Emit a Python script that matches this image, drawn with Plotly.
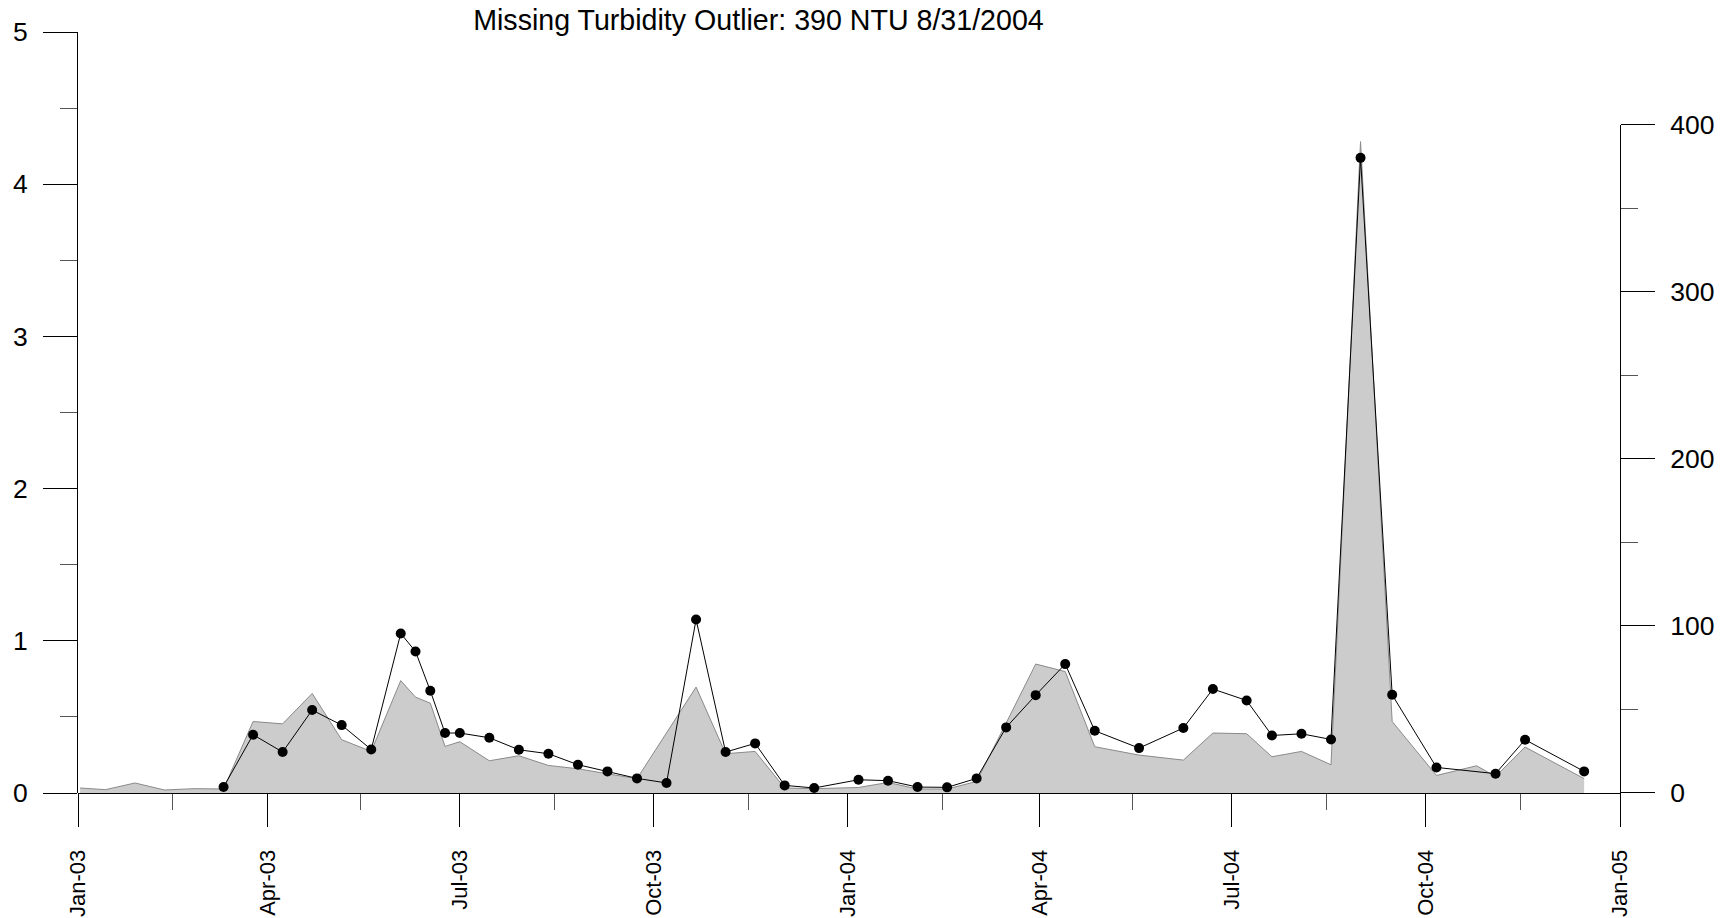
import plotly.graph_objects as go

# ---- data ----
turb_dates = ["2003-01-02", "2003-01-14", "2003-01-28", "2003-02-11", "2003-02-25", "2003-03-11",
              "2003-03-25", "2003-04-08", "2003-04-22", "2003-05-06", "2003-05-20", "2003-06-03",
              "2003-06-10", "2003-06-17", "2003-06-24", "2003-07-01", "2003-07-15", "2003-07-29",
              "2003-08-12", "2003-08-26", "2003-09-09", "2003-09-23", "2003-10-21", "2003-11-04",
              "2003-11-18", "2003-12-02", "2003-12-16", "2004-01-06", "2004-01-20", "2004-02-03",
              "2004-02-17", "2004-03-02", "2004-03-16", "2004-03-30", "2004-04-13", "2004-04-27",
              "2004-05-18", "2004-06-08", "2004-06-22", "2004-07-08", "2004-07-20", "2004-08-03",
              "2004-08-17", "2004-08-31", "2004-09-15", "2004-10-06", "2004-10-25", "2004-11-03",
              "2004-11-17", "2004-12-15"]
turb_ntu = [3.0, 2.0, 6.0, 1.8, 2.6, 2.4,
            42.8, 41.4, 59.6, 31.9, 24.9, 67.3,
            57.4, 53.8, 27.9, 30.7, 19.3, 22.3,
            16.5, 14.5, 11.5, 8.6, 63.4, 23.5,
            24.9, 3.0, 2.6, 3.3, 6.3, 2.4,
            2.4, 6.9, 41.9, 77.2, 72.7, 27.7,
            22.7, 19.7, 35.9, 35.5, 21.7, 24.9,
            16.9, 390.0, 42.8, 10.5, 16.3, 9.9,
            27.5, 8.6]

conc_dates = ["2003-03-11", "2003-03-25", "2003-04-08", "2003-04-22", "2003-05-06", "2003-05-20",
              "2003-06-03", "2003-06-10", "2003-06-17", "2003-06-24", "2003-07-01", "2003-07-15",
              "2003-07-29", "2003-08-12", "2003-08-26", "2003-09-09", "2003-09-23", "2003-10-07",
              "2003-10-21", "2003-11-04", "2003-11-18", "2003-12-02", "2003-12-16", "2004-01-06",
              "2004-01-20", "2004-02-03", "2004-02-17", "2004-03-02", "2004-03-16", "2004-03-30",
              "2004-04-13", "2004-04-27", "2004-05-18", "2004-06-08", "2004-06-22", "2004-07-08",
              "2004-07-20", "2004-08-03", "2004-08-17", "2004-08-31", "2004-09-15", "2004-10-06",
              "2004-11-03", "2004-11-17", "2004-12-15"]
conc_vals = [0.039, 0.383, 0.269, 0.545, 0.446, 0.286,
             1.048, 0.930, 0.672, 0.394, 0.394, 0.363,
             0.284, 0.258, 0.186, 0.142, 0.096, 0.066,
             1.140, 0.269, 0.326, 0.050, 0.033, 0.087,
             0.081, 0.039, 0.037, 0.096, 0.431, 0.643,
             0.847, 0.409, 0.295, 0.427, 0.683, 0.608,
             0.378, 0.389, 0.352, 4.173, 0.645, 0.168,
             0.127, 0.350, 0.142]

x_major = ["2003-01-01", "2003-04-01", "2003-07-01", "2003-10-01", "2004-01-01",
           "2004-04-01", "2004-07-01", "2004-10-01", "2005-01-01"]
x_labels = ["Jan-03", "Apr-03", "Jul-03", "Oct-03", "Jan-04", "Apr-04", "Jul-04", "Oct-04", "Jan-05"]
x_minor = ["2003-02-15", "2003-05-15", "2003-08-15", "2003-11-15",
           "2004-02-15", "2004-05-15", "2004-08-15", "2004-11-15"]

left_major = [0, 1, 2, 3, 4, 5]
left_minor = [0.5, 1.5, 2.5, 3.5, 4.5]
right_major = [0, 100, 200, 300, 400]
right_minor = [50, 150, 250, 350]

title_text = "Missing Turbidity Outlier: 390 NTU 8/31/2004"

FONT = "Liberation Sans, Arial, sans-serif"

fig = go.Figure()

# gray turbidity area (right axis)
fig.add_trace(go.Scatter(
    x=turb_dates, y=turb_ntu, xaxis="x", yaxis="y",
    mode="lines", fill="tozeroy", fillcolor="#cccccc",
    line=dict(color="#8a8a8a", width=1), hoverinfo="skip"))

# black line with dots (left axis)
fig.add_trace(go.Scatter(
    x=conc_dates, y=conc_vals, xaxis="x", yaxis="y2",
    mode="lines+markers", line=dict(color="black", width=1),
    marker=dict(color="black", size=10)))

fig.update_layout(
    width=1736, height=918,
    margin=dict(l=78.3, r=115.7, t=32, b=124.5, autoexpand=False),
    paper_bgcolor="white", plot_bgcolor="rgba(0,0,0,0)",
    showlegend=False,
    font=dict(family=FONT, color="black"),
    title=dict(text=title_text, x=0.4369, xanchor="center", xref="container",
               y=0.978, yanchor="middle", yref="container",
               font=dict(family=FONT, size=28.6, color="black")),
    xaxis=dict(
        type="date", range=["2003-01-01", "2005-01-01"], anchor="y", automargin=False,
        showgrid=False, zeroline=False, showline=True, linecolor="black", linewidth=1,
        tickmode="array", tickvals=x_major, ticktext=x_labels, tickangle=-90,
        ticks="outside", ticklen=33, tickwidth=1, tickcolor="black",
        tickfont=dict(family=FONT, size=22, color="black"),
        ticklabelstandoff=14,
        minor=dict(tickmode="array", tickvals=x_minor, ticks="outside",
                   ticklen=16, tickwidth=1, tickcolor="#555555", showgrid=False)),
    yaxis=dict(
        domain=[0, 0.8779], range=[0, 400], side="right", anchor="x", automargin=False,
        showgrid=False, zeroline=False, showline=True, linecolor="black", linewidth=1,
        tickmode="array", tickvals=right_major, ticktext=[str(v) for v in right_major],
        ticks="outside", ticklen=34, tickwidth=1, tickcolor="black",
        tickfont=dict(family=FONT, size=26.5, color="black"),
        ticklabelstandoff=10,
        minor=dict(tickmode="array", tickvals=right_minor, ticks="outside",
                   ticklen=17, tickwidth=1, tickcolor="#555555", showgrid=False)),
    yaxis2=dict(
        domain=[0, 1], range=[0, 5], side="left", anchor="x", automargin=False,
        showgrid=False, zeroline=False, showline=True, linecolor="black", linewidth=1,
        tickmode="array", tickvals=left_major, ticktext=[str(v) for v in left_major],
        ticks="outside", ticklen=34, tickwidth=1, tickcolor="black",
        tickfont=dict(family=FONT, size=26.5, color="black"),
        ticklabelstandoff=10,
        minor=dict(tickmode="array", tickvals=left_minor, ticks="outside",
                   ticklen=17, tickwidth=1, tickcolor="#555555", showgrid=False)),
)

fig.write_html("out.html", config={"displayModeBar": False},
               post_script="document.body.style.margin='0';document.body.style.overflow='hidden';")
